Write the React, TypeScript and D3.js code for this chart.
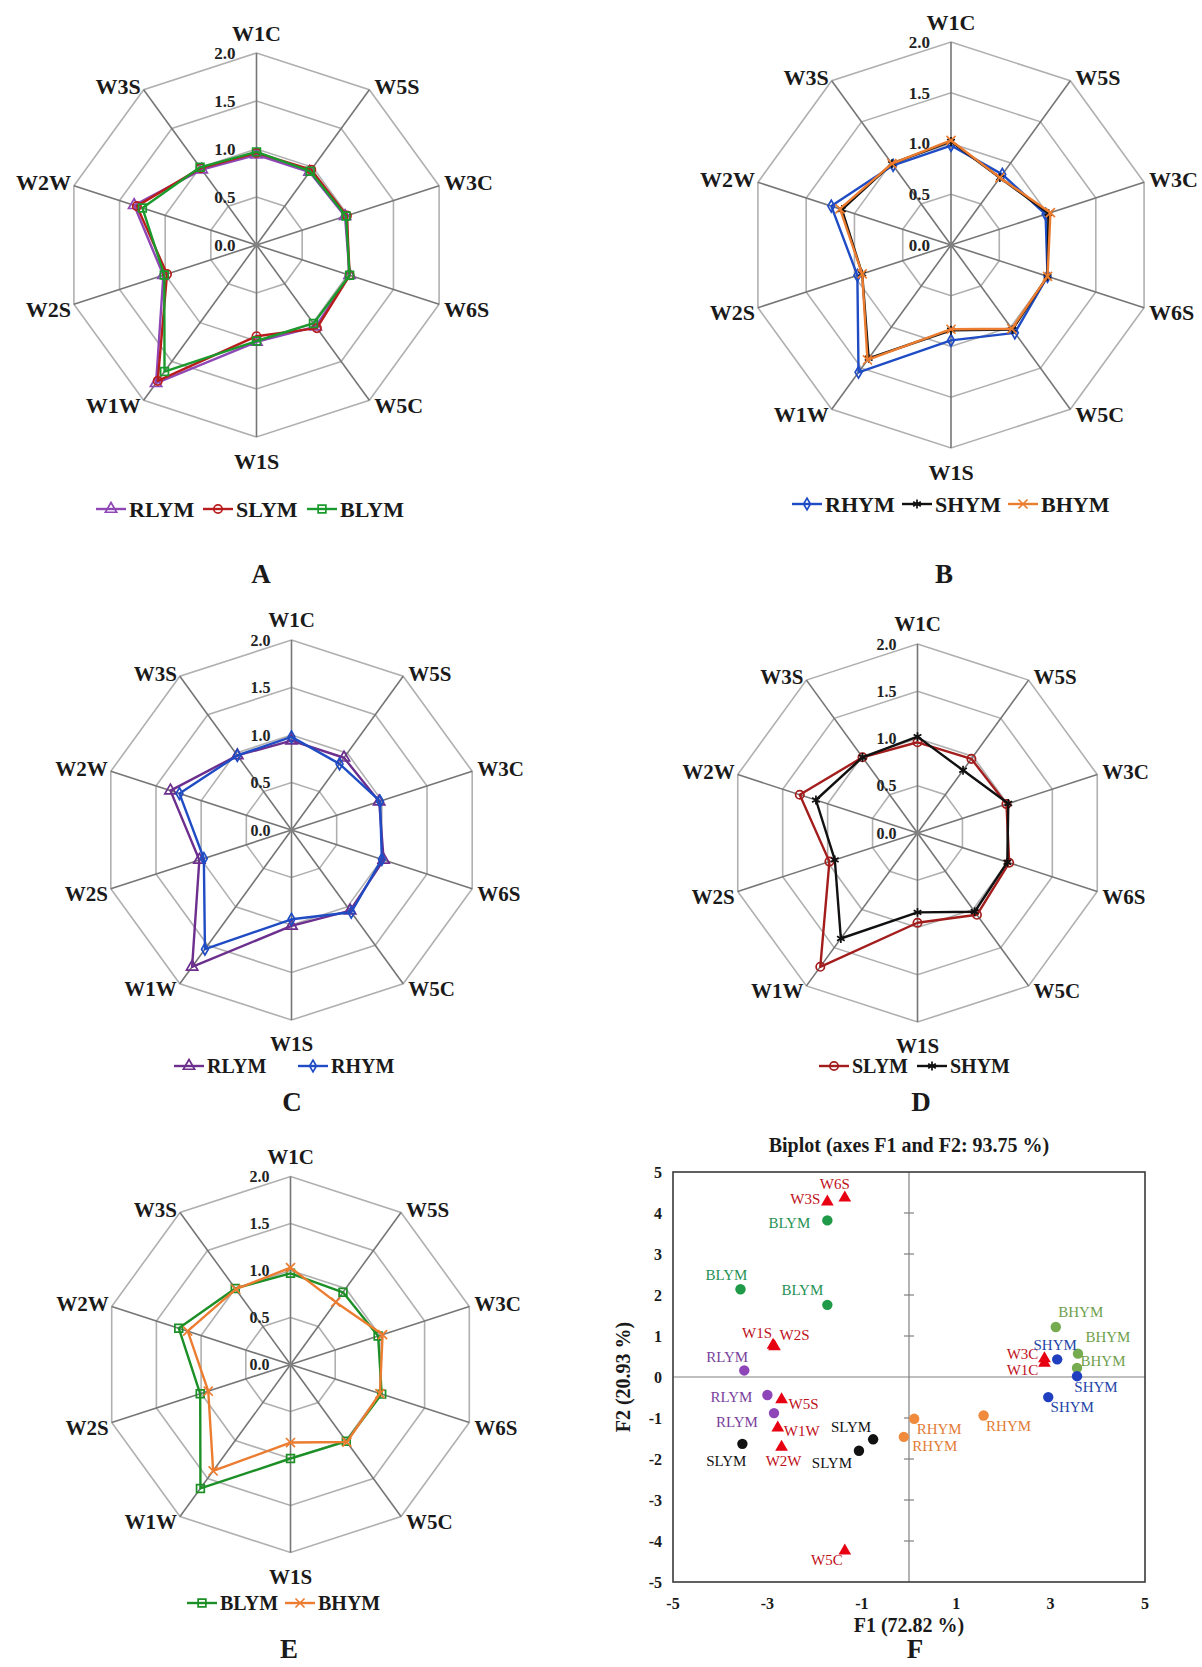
import React, { useEffect, useRef } from 'react'
import * as d3 from 'd3'

// radar axes, clockwise from the top
const categories = ['W1C', 'W5S', 'W3C', 'W6S', 'W5C', 'W1S', 'W1W', 'W2S', 'W2W', 'W3S']
const radarTicks = [0, 0.5, 1.0, 1.5, 2.0]

const RLYM = [0.94, 0.94, 0.97, 1.02, 1.05, 1.01, 1.78, 1.02, 1.34, 0.97]
const SLYM = [0.96, 0.97, 0.99, 1.02, 1.07, 0.95, 1.75, 0.98, 1.31, 0.99]
const BLYM = [0.97, 0.95, 0.98, 1.02, 1.01, 1.0, 1.63, 1.01, 1.25, 1.0]
const RHYM = [0.98, 0.86, 0.98, 1.0, 1.07, 0.94, 1.55, 0.97, 1.24, 0.97]
const SHYM = [1.02, 0.82, 1.01, 1.0, 1.03, 0.84, 1.38, 0.92, 1.13, 0.99]
const BHYM = [1.03, 0.82, 1.03, 1.0, 1.02, 0.83, 1.4, 0.92, 1.15, 0.99]

// biplot observations (F1, F2)
const obsNames = ['BLYM', 'BLYM', 'BLYM', 'RLYM', 'RLYM', 'RLYM', 'SLYM', 'SLYM', 'SLYM',
  'RHYM', 'RHYM', 'RHYM', 'BHYM', 'BHYM', 'BHYM', 'SHYM', 'SHYM', 'SHYM']
const obsF1 = [-1.73, -3.57, -1.73, -3.49, -3.0, -2.86, -3.53, -0.76, -1.06,
  0.11, -0.11, 1.58, 3.11, 3.58, 3.56, 3.14, 3.56, 2.95]
const obsF2 = [3.82, 2.14, 1.76, 0.16, -0.44, -0.88, -1.63, -1.52, -1.8,
  -1.02, -1.46, -0.94, 1.22, 0.57, 0.22, 0.43, 0.02, -0.49]
// biplot variables (F1, F2)
const varNames = ['W6S', 'W3S', 'W1S', 'W2S', 'W5S', 'W1W', 'W2W', 'W5C', 'W3C', 'W1C']
const varF1 = [-1.36, -1.73, -2.88, -2.85, -2.7, -2.78, -2.7, -1.36, 2.87, 2.87]
const varF2 = [4.37, 4.27, 0.78, 0.74, -0.55, -1.24, -1.71, -4.24, 0.45, 0.34]
const f1Ticks = [-5, -3, -1, 1, 3, 5]
const f2Ticks = [5, 4, 3, 2, 1, 0, -1, -2, -3, -4, -5]

const seriesData: any = { RLYM, SLYM, BLYM, RHYM, SHYM, BHYM }

const FONT = "'Times New Roman', 'Liberation Serif', serif"

const style: any = {
  RLYM: { color: '#8e47b5', symbol: d3.symbolTriangle, size: 55 },
  SLYM: { color: '#b81c1c', symbol: d3.symbolCircle, size: 55 },
  BLYM: { color: '#1a9a2c', symbol: d3.symbolSquare, size: 60 },
  RHYM: { color: '#1f4cc4', symbol: d3.symbolDiamond, size: 40 },
  SHYM: { color: '#111111', symbol: d3.symbolAsterisk, size: 55 },
  BHYM: { color: '#ec7c30', symbol: d3.symbolTimes, size: 55 }
}

const panels = [
  { id: 'A', cx: 256.5, cy: 245, R: 192, series: ['RLYM', 'SLYM', 'BLYM'], legendY: 509, legendX: [96, 203, 307], legendFont: 22, tickFont: 17, catFont: 22, letterX: 261, letterY: 574, colors: {} },
  { id: 'B', cx: 951, cy: 245, R: 203, series: ['RHYM', 'SHYM', 'BHYM'], legendY: 504, legendX: [792, 902, 1008], legendFont: 22, tickFont: 17, catFont: 22, letterX: 944, letterY: 574, colors: {} },
  { id: 'C', cx: 291.5, cy: 830, R: 190, series: ['RLYM', 'RHYM'], legendY: 1066, legendX: [174, 298], legendFont: 20, tickFont: 16, catFont: 21, letterX: 292, letterY: 1102, colors: { RLYM: '#6c2f8e' } },
  { id: 'D', cx: 917.5, cy: 833, R: 189, series: ['SLYM', 'SHYM'], legendY: 1066, legendX: [819, 917], legendFont: 20, tickFont: 16, catFont: 21, letterX: 921, letterY: 1102, colors: { SLYM: '#a31d1d' } },
  { id: 'E', cx: 290.5, cy: 1364.5, R: 188, series: ['BLYM', 'BHYM'], legendY: 1603, legendX: [187, 285], legendFont: 20, tickFont: 16, catFont: 21, letterX: 289, letterY: 1649, colors: { BLYM: '#1c8f26' } }
]

const obsColor: any = { BLYM: '#1f9a48', RLYM: '#8e45b8', SLYM: '#111111', RHYM: '#f08a3c', BHYM: '#77ab4f', SHYM: '#1f3fc0' }
const obsText: any = { BLYM: '#1f9155', RLYM: '#7a3f9c', SLYM: '#111111', RHYM: '#e27b35', BHYM: '#6f9f4c', SHYM: '#2445a8' }
// label offsets (px) from each point
const obsLabelDx = [-38, -14, -25, -17, -36, -37, -16, -22, -27, 25, 31, 25, 25, 30, 26, -2, 19, 24]
const obsLabelDy = [2, -15, -15, -14, 2, 9, 17, -13, 12, 10, 9, 10, -15, -17, -7, -15, 11, 10]
const varLabelDx = [-10, -22, -16, 20, 22, 24, 2, -18, -22, -22]
const varLabelDy = [-14, -3, -12, -12, 4, 3, 14, 9, -5, 7]

function drawRadar(svg: any, p: any) {
  const g = svg.append('g').attr('transform', `translate(${p.cx},${p.cy})`)
  const r = d3.scaleLinear().domain([0, 2]).range([0, p.R])
  const step = (2 * Math.PI) / categories.length
  const ring = d3.lineRadial<number>()
    .angle((d, i) => i * step)
    .radius(d => r(d))
    .curve(d3.curveLinearClosed)

  radarTicks.slice(1).forEach(t => {
    g.append('path').attr('d', ring(categories.map(() => t)))
      .attr('fill', 'none').attr('stroke', '#b0b0b0').attr('stroke-width', 1.6)
  })
  categories.forEach((c, i) => {
    const a = i * step
    g.append('line').attr('x1', 0).attr('y1', 0)
      .attr('x2', r(2) * Math.sin(a)).attr('y2', -r(2) * Math.cos(a))
      .attr('stroke', '#767676').attr('stroke-width', 1.6)
  })
  g.append('circle').attr('r', 2.5).attr('fill', '#808080')
  radarTicks.forEach(t => {
    g.append('text').attr('x', -21).attr('y', -r(t)).attr('dy', '0.35em')
      .attr('text-anchor', 'end').attr('font-family', FONT).attr('font-weight', 'bold')
      .attr('font-size', p.tickFont).attr('fill', '#222').text(t.toFixed(1))
  })
  categories.forEach((c, i) => {
    const a = i * step
    const s = Math.sin(a), co = Math.cos(a)
    const vx = r(2) * s, vy = -r(2) * co
    const t = g.append('text').attr('font-family', FONT).attr('font-weight', 'bold')
      .attr('font-size', p.catFont).attr('fill', '#1a1a1a').attr('dy', '0.35em').text(c)
    if (Math.abs(s) < 0.1) {
      t.attr('x', 0).attr('y', vy + (co > 0 ? -20 : 24)).attr('text-anchor', 'middle')
    } else {
      t.attr('x', vx + (s > 0 ? 5 : -3)).attr('y', vy + (co > 0 ? -3 : 5))
        .attr('text-anchor', s > 0 ? 'start' : 'end')
    }
  })

  p.series.forEach((name: string) => {
    const st = style[name]
    const col = p.colors[name] || st.color
    const vals: number[] = seriesData[name]
    g.append('path').attr('d', ring(vals)).attr('fill', 'none')
      .attr('stroke', col).attr('stroke-width', 2.4).attr('stroke-linejoin', 'round')
    const sym = d3.symbol().type(st.symbol).size(st.size)
    vals.forEach((v, i) => {
      const a = i * step
      g.append('path').attr('d', sym())
        .attr('transform', `translate(${r(v) * Math.sin(a)},${-r(v) * Math.cos(a)})`)
        .attr('fill', 'none').attr('stroke', col).attr('stroke-width', 1.7)
    })
  })

  // legend
  p.series.forEach((name: string, k: number) => {
    const st = style[name]
    const col = p.colors[name] || st.color
    const x0 = p.legendX[k]
    const lg = svg.append('g')
    lg.append('line').attr('x1', x0).attr('x2', x0 + 30).attr('y1', p.legendY).attr('y2', p.legendY)
      .attr('stroke', col).attr('stroke-width', 2.4)
    lg.append('path').attr('d', d3.symbol().type(st.symbol).size(st.size)())
      .attr('transform', `translate(${x0 + 15},${p.legendY})`)
      .attr('fill', 'none').attr('stroke', col).attr('stroke-width', 1.7)
    lg.append('text').attr('x', x0 + 33).attr('y', p.legendY).attr('dy', '0.35em')
      .attr('font-family', FONT).attr('font-weight', 'bold').attr('font-size', p.legendFont)
      .attr('fill', '#1a1a1a').text(name)
  })

  svg.append('text').attr('x', p.letterX).attr('y', p.letterY).attr('dy', '0.35em')
    .attr('text-anchor', 'middle').attr('font-family', FONT).attr('font-weight', 'bold')
    .attr('font-size', 27).attr('fill', '#1a1a1a').text(p.id)
}

function drawBiplot(svg: any) {
  const x = d3.scaleLinear().domain([-5, 5]).range([673, 1145])
  const y = d3.scaleLinear().domain([-5, 5]).range([1582, 1172])
  const g = svg.append('g')

  g.append('text').attr('x', x(0)).attr('y', 1145).attr('dy', '0.35em').attr('text-anchor', 'middle')
    .attr('font-family', FONT).attr('font-weight', 'bold').attr('font-size', 20).attr('fill', '#1a1a1a')
    .text('Biplot (axes F1 and F2: 93.75 %)')

  g.append('line').attr('x1', x(0)).attr('x2', x(0)).attr('y1', y(5)).attr('y2', y(-5))
    .attr('stroke', '#808080').attr('stroke-width', 1.2)
  g.append('line').attr('x1', x(-5)).attr('x2', x(5)).attr('y1', y(0)).attr('y2', y(0))
    .attr('stroke', '#808080').attr('stroke-width', 1.2)
  f2Ticks.filter(t => t !== 0 && Math.abs(t) < 5).forEach(t => {
    g.append('line').attr('x1', x(0) - 5).attr('x2', x(0) + 5).attr('y1', y(t)).attr('y2', y(t))
      .attr('stroke', '#808080').attr('stroke-width', 1.2)
  })
  g.append('rect').attr('x', x(-5)).attr('y', y(5)).attr('width', x(5) - x(-5)).attr('height', y(-5) - y(5))
    .attr('fill', 'none').attr('stroke', '#3a3a3a').attr('stroke-width', 1.6)

  f2Ticks.forEach(t => {
    g.append('text').attr('x', x(-5) - 11).attr('y', y(t)).attr('dy', '0.35em').attr('text-anchor', 'end')
      .attr('font-family', FONT).attr('font-weight', 'bold').attr('font-size', 16).attr('fill', '#1a1a1a')
      .text(t)
  })
  f1Ticks.forEach(t => {
    g.append('text').attr('x', x(t)).attr('y', 1603).attr('dy', '0.35em').attr('text-anchor', 'middle')
      .attr('font-family', FONT).attr('font-weight', 'bold').attr('font-size', 16).attr('fill', '#1a1a1a')
      .text(t)
  })
  g.append('text').attr('x', x(0)).attr('y', 1625).attr('dy', '0.35em').attr('text-anchor', 'middle')
    .attr('font-family', FONT).attr('font-weight', 'bold').attr('font-size', 20).attr('fill', '#1a1a1a')
    .text('F1 (72.82 %)')
  g.append('text').attr('transform', `translate(623,${y(0)}) rotate(-90)`).attr('dy', '0.35em')
    .attr('text-anchor', 'middle').attr('font-family', FONT).attr('font-weight', 'bold')
    .attr('font-size', 20).attr('fill', '#1a1a1a').text('F2 (20.93 %)')

  const tri = d3.symbol().type(d3.symbolTriangle).size(70)
  varNames.forEach((n, i) => {
    g.append('path').attr('d', tri()).attr('transform', `translate(${x(varF1[i])},${y(varF2[i])})`)
      .attr('fill', '#e60012')
    g.append('text').attr('x', x(varF1[i]) + varLabelDx[i]).attr('y', y(varF2[i]) + varLabelDy[i])
      .attr('dy', '0.35em').attr('text-anchor', 'middle').attr('font-family', FONT)
      .attr('font-size', 15).attr('fill', '#c0101a').text(n)
  })
  obsNames.forEach((n, i) => {
    g.append('circle').attr('cx', x(obsF1[i])).attr('cy', y(obsF2[i])).attr('r', 5.2)
      .attr('fill', obsColor[n])
    g.append('text').attr('x', x(obsF1[i]) + obsLabelDx[i]).attr('y', y(obsF2[i]) + obsLabelDy[i])
      .attr('dy', '0.35em').attr('text-anchor', 'middle').attr('font-family', FONT)
      .attr('font-size', 15).attr('fill', obsText[n]).text(n)
  })

  svg.append('text').attr('x', 915).attr('y', 1649).attr('dy', '0.35em').attr('text-anchor', 'middle')
    .attr('font-family', FONT).attr('font-weight', 'bold').attr('font-size', 27).attr('fill', '#1a1a1a').text('F')
}

export default function App() {
  const ref = useRef<SVGSVGElement>(null)

  useEffect(() => {
    const svg = d3.select(ref.current)
    svg.selectAll('*').remove()
    svg.append('rect').attr('width', 1202).attr('height', 1667).attr('fill', '#ffffff')
    panels.forEach(p => drawRadar(svg, p))
    drawBiplot(svg)
  }, [])

  return (
    <svg ref={ref} width={1202} height={1667}
      style={{ position: 'absolute', left: 0, top: 0, display: 'block' }} />
  )
}
